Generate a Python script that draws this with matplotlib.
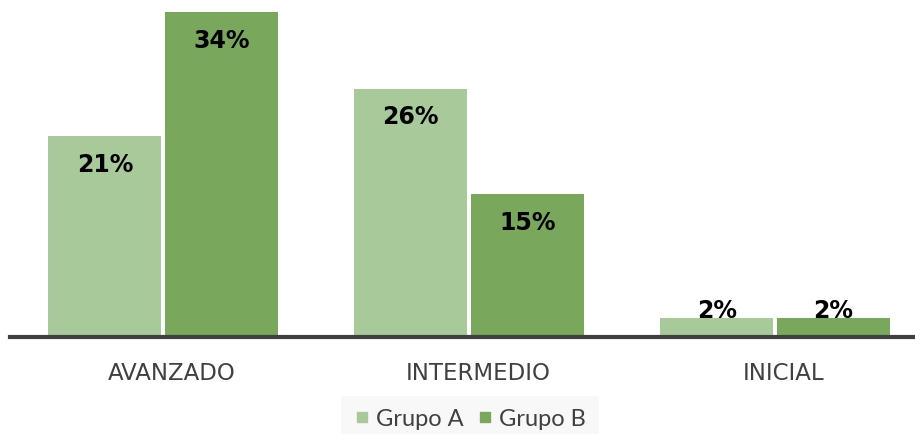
import matplotlib
matplotlib.use("Agg")
import matplotlib.pyplot as plt
import matplotlib.transforms as mtransforms
import numpy as np
from matplotlib.lines import Line2D

categories = ["AVANZADO", "INTERMEDIO", "INICIAL"]
series_names = ["Grupo A", "Grupo B"]
grupo_a = [21, 26, 2]
grupo_b = [34, 15, 2]
labels_a = ["21%", "26%", "2%"]
labels_b = ["34%", "15%", "2%"]

color_a = "#A8C99A"
color_b = "#79A75B"
text_gray = "#404040"

W, H = 915, 435
fig = plt.figure(figsize=(W / 100, H / 100), dpi=100)
fig.patch.set_facecolor("white")

# axes spans from the left edge of the baseline to the right edge of the figure
ax = fig.add_axes([10 / W, 1 - 338 / H, 905 / W, 338 / H])
ax.set_facecolor("none")

x = np.arange(len(categories))
bw = 0.37
gap = 0.005
bars_a = ax.bar(x - bw / 2 - gap, grupo_a, width=bw, color=color_a, zorder=2)
bars_b = ax.bar(x + bw / 2 + gap, grupo_b, width=bw, color=color_b, zorder=2)

ax.set_xlim(-0.5, -0.5 + 905 / 306)
ax.set_ylim(0, 338 / 9.55)

for s in ["top", "right", "left"]:
    ax.spines[s].set_visible(False)
ax.spines["bottom"].set_color(text_gray)
ax.spines["bottom"].set_linewidth(3)
ax.spines["bottom"].set_zorder(3)
ax.set_yticks([])
ax.set_xticks(x)
ax.set_xticklabels(categories, fontsize=16.5, color=text_gray, family="DejaVu Sans")
ax.tick_params(axis="x", length=0, pad=17)
shift = mtransforms.ScaledTranslation(9 / 100, 0, fig.dpi_scale_trans)
for t in ax.get_xticklabels():
    t.set_transform(t.get_transform() + shift)

label_font = dict(fontsize=17, fontweight="bold", color="black",
                  ha="center", va="center", family="DejaVu Sans", zorder=4)
for bars, labels in ((bars_a, labels_a), (bars_b, labels_b)):
    for b, lab in zip(bars, labels):
        h = b.get_height()
        cx = b.get_x() + b.get_width() / 2
        if h > 5:
            ax.annotate(lab, (cx, h), xytext=(0, -20), textcoords="offset points",
                        **label_font)
        else:
            ax.annotate(lab, (cx, h), xytext=(0, 6), textcoords="offset points",
                        **label_font)

handles = [Line2D([], [], marker="s", linestyle="none", markersize=7,
                  markerfacecolor=c, markeredgecolor=c) for c in (color_a, color_b)]
leg = fig.legend(handles, series_names, loc="center", bbox_to_anchor=(470 / W, 1 - 420 / H),
                 ncol=2, frameon=True, handlelength=0.6, handletextpad=0.3,
                 columnspacing=0.6, borderpad=0.55, labelcolor=text_gray,
                 prop={"family": "Lato", "size": 17})
leg.get_frame().set_facecolor("#F7F7F7")
leg.get_frame().set_edgecolor("none")
leg.get_frame().set_boxstyle("square", pad=0)

fig.savefig("out.png", dpi=100, facecolor="white")
